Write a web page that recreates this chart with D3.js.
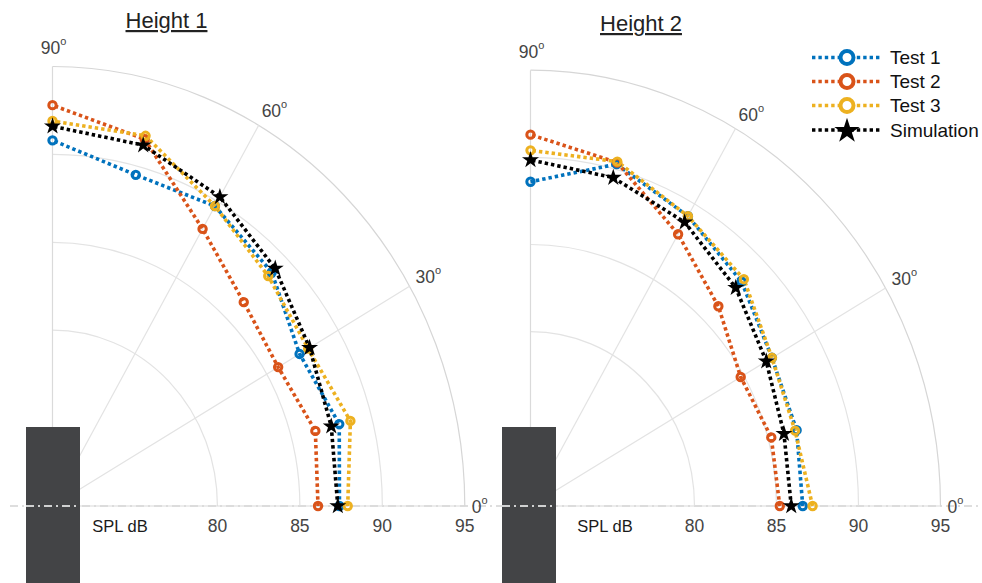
<!DOCTYPE html>
<html>
<head>
<meta charset="utf-8">
<script src="https://cdn.jsdelivr.net/npm/d3@7"></script>
<style>
  html, body { margin: 0; padding: 0; background: #fff; }
  svg { display: block; font-family: "Liberation Sans", Arial, Helvetica, sans-serif; }
</style>
</head>
<body>
<svg id="chart" width="982" height="583"></svg>
<script>
// ---------- data ----------
const angles = [0, 15, 30, 45, 60, 75, 90];
const seriesNames = ["Test 1", "Test 2", "Test 3", "Simulation"];
const seriesColors = ["#0072BD", "#D95319", "#EDB120", "#000000"];
const h1Test1 = [87.4, 88.0, 87.3, 88.8, 89.7, 89.5, 90.8];
const h1Test2 = [86.1, 86.5, 85.8, 86.4, 88.2, 91.6, 92.8];
const h1Test3 = [87.9, 88.7, 87.9, 88.5, 89.7, 91.8, 91.9];
const h1Sim   = [87.3, 87.5, 88.0, 89.1, 90.3, 91.25, 91.6];
const h2Test1 = [86.6, 86.8, 87.0, 88.2, 89.2, 90.3, 88.6];
const h2Test2 = [85.2, 85.2, 84.8, 86.2, 88.0, 90.4, 91.3];
const h2Test3 = [87.2, 86.7, 87.0, 88.4, 89.2, 90.45, 90.4];
const h2Sim   = [85.9, 86.0, 86.6, 87.7, 88.8, 89.5, 89.85];
const rDomain = [70, 95];
const rTicks = [80, 85, 90, 95];
const thetaTicks = [0, 30, 60, 90];
const titles = ["Height 1", "Height 2"];
const rAxisTitle = "SPL dB";

// ---------- layout ----------
const panels = [
  { cx: 52.5, cy: 506, R: 412.3, ky: 1.066, title: titles[0], tx: 166.5, ty: 28, splX: 120,
    data: [h1Test1, h1Test2, h1Test3, h1Sim], rect: [26, 427] },
  { cx: 530.5, cy: 506, R: 410, ky: 1.063, title: titles[1], tx: 641, ty: 31, splX: 605,
    data: [h2Test1, h2Test2, h2Test3, h2Sim], rect: [502, 427] }
];

const svg = d3.select("#chart");
const gridColor = "#e3e3e3";

// global dash-dot reference line
svg.append("line").attr("x1", 10).attr("x2", 982).attr("y1", 506).attr("y2", 506)
  .attr("stroke", "#d4d4d4").attr("stroke-width", 1.5).attr("stroke-dasharray", "8,4,2,4");

panels.forEach((p, pi) => {
  const g = svg.append("g");
  const rs = d3.scaleLinear().domain(rDomain).range([0, p.R]);
  const proj = (a, v) => {
    const r = rs(v), t = a * Math.PI / 180;
    return [p.cx + r * Math.cos(t), p.cy - r * Math.sin(t) * p.ky];
  };

  // arcs
  rTicks.forEach(v => {
    const r = rs(v);
    g.append("path")
      .attr("d", `M${p.cx + r},${p.cy} A${r},${r * p.ky} 0 0 0 ${p.cx},${p.cy - r * p.ky}`)
      .attr("fill", "none")
      .attr("stroke", v === rDomain[1] ? "#d6d6d6" : gridColor)
      .attr("stroke-width", 1.2);
  });
  // spokes
  thetaTicks.forEach(a => {
    const [x, y] = proj(a, rDomain[1]);
    g.append("line").attr("x1", p.cx).attr("y1", p.cy).attr("x2", x).attr("y2", y)
      .attr("stroke", a === 0 || a === 90 ? "#dadada" : gridColor).attr("stroke-width", 1.2);
  });

  // theta labels
  const thetaOff = { 0: [7, 7, "start"], 30: [6, -3, "start"], 60: [3, -8, "start"], 90: [1, -12, "middle"] };
  thetaTicks.forEach(a => {
    const [x, y] = proj(a, rDomain[1]);
    const o = thetaOff[a];
    const t = g.append("text").attr("x", x + o[0]).attr("y", y + o[1])
      .attr("text-anchor", o[2]).attr("font-size", 17.5).attr("fill", "#444");
    t.append("tspan").text(a);
    t.append("tspan").text("o").attr("font-size", 11).attr("dy", -9);
  });

  // r tick labels
  rTicks.forEach(v => {
    const [x] = proj(0, v);
    g.append("text").attr("x", x).attr("y", 532).attr("text-anchor", "middle")
      .attr("font-size", 17.5).attr("fill", "#444").text(v);
  });
  g.append("text").attr("x", p.splX).attr("y", 532).attr("text-anchor", "middle")
    .attr("font-size", 16.5).attr("fill", "#1a1a1a").text(rAxisTitle);

  // title
  g.append("text").attr("x", p.tx).attr("y", p.ty).attr("text-anchor", "middle")
    .attr("font-size", 22).attr("fill", "#222").style("text-decoration", "underline")
    .text(p.title);

  // speaker block
  g.append("rect").attr("x", p.rect[0]).attr("y", p.rect[1]).attr("width", 54).attr("height", 583 - p.rect[1])
    .attr("fill", "#434446");
  g.append("line").attr("x1", p.rect[0]).attr("x2", p.rect[0] + 54).attr("y1", 506).attr("y2", 506)
    .attr("stroke", "#ffffff").attr("stroke-width", 1.5).attr("stroke-dasharray", "8,4,2,4");

  // series
  const line = d3.line().x(d => d[0]).y(d => d[1]);
  p.data.forEach((vals, si) => {
    const pts = angles.map((a, i) => proj(a, vals[i]));
    g.append("path").attr("d", line(pts)).attr("fill", "none")
      .attr("stroke", seriesColors[si]).attr("stroke-width", 3.6)
      .attr("stroke-dasharray", "3.4,3");
  });
  p.data.forEach((vals, si) => {
    const pts = angles.map((a, i) => proj(a, vals[i]));
    if (si < 3) {
      g.selectAll(null).data(pts).enter().append("circle")
        .attr("cx", d => d[0]).attr("cy", d => d[1]).attr("r", 3.7)
        .attr("fill", "none").attr("stroke", seriesColors[si]).attr("stroke-width", 3);
    } else {
      g.selectAll(null).data(pts).enter().append("path")
        .attr("d", d3.symbol(d3.symbolStar, 90)())
        .attr("transform", d => `translate(${d[0]},${d[1]})`)
        .attr("fill", "#000");
    }
  });
});

// legend
const lg = svg.append("g");
const rows = [57.5, 81.5, 105.5, 130];
seriesNames.forEach((name, i) => {
  const y = rows[i];
  lg.append("line").attr("x1", 812).attr("x2", 881).attr("y1", y).attr("y2", y)
    .attr("stroke", seriesColors[i]).attr("stroke-width", 3.6).attr("stroke-dasharray", "3.4,3");
  if (i < 3) {
    lg.append("circle").attr("cx", 847).attr("cy", y).attr("r", 6.5)
      .attr("fill", "#fff").attr("stroke", seriesColors[i]).attr("stroke-width", 4);
  } else {
    lg.append("path").attr("d", d3.symbol(d3.symbolStar, 200)())
      .attr("transform", `translate(847,${y + 1})`).attr("fill", "#000");
  }
  lg.append("text").attr("x", 890).attr("y", y).attr("dy", "0.35em")
    .attr("font-size", 19).attr("fill", "#111").text(name);
});
</script>
</body>
</html>
